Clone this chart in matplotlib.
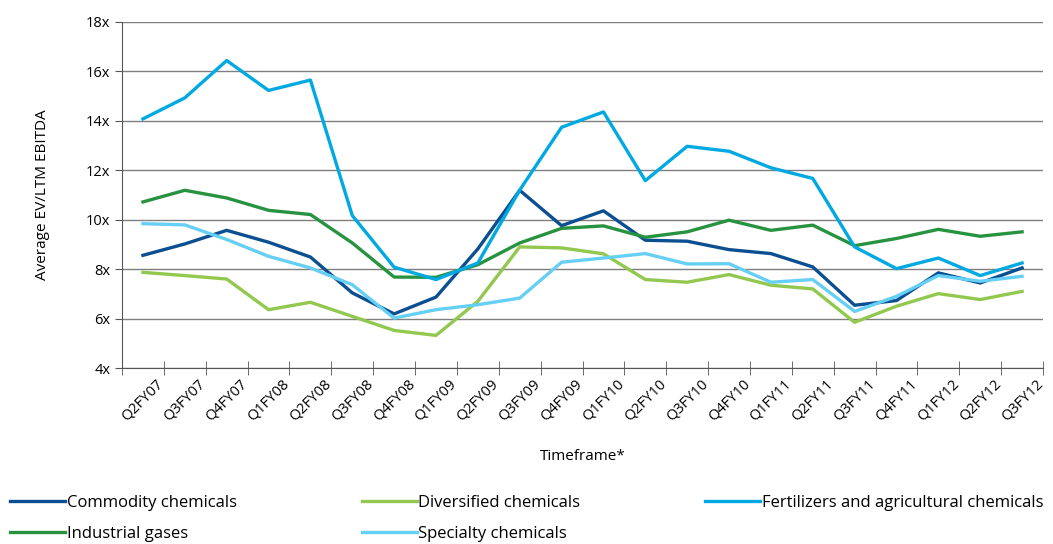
import numpy as np
import matplotlib
matplotlib.use('Agg')
import matplotlib.pyplot as plt
import matplotlib.transforms as mtransforms

plt.rcParams['font.family'] = ['Open Sans', 'DejaVu Sans']

quarters = ['Q2FY07', 'Q3FY07', 'Q4FY07', 'Q1FY08', 'Q2FY08', 'Q3FY08', 'Q4FY08',
            'Q1FY09', 'Q2FY09', 'Q3FY09', 'Q4FY09', 'Q1FY10', 'Q2FY10', 'Q3FY10',
            'Q4FY10', 'Q1FY11', 'Q2FY11', 'Q3FY11', 'Q4FY11', 'Q1FY12', 'Q2FY12', 'Q3FY12']

commodity = [8.56, 9.02, 9.57, 9.09, 8.49, 7.04, 6.19, 6.87, 8.82, 11.19, 9.76,
             10.36, 9.17, 9.13, 8.79, 8.63, 8.09, 6.54, 6.73, 7.85, 7.44, 8.05]
diversified = [7.87, 7.74, 7.60, 6.36, 6.66, 6.09, 5.52, 5.32, 6.70, 8.90, 8.86,
               8.62, 7.58, 7.47, 7.78, 7.35, 7.20, 5.85, 6.50, 7.01, 6.77, 7.10]
fertilizers = [14.08, 14.93, 16.44, 15.23, 15.65, 10.17, 8.08, 7.58, 8.25, 11.2, 13.74,
               14.36, 11.58, 12.97, 12.77, 12.10, 11.67, 8.90, 8.02, 8.45, 7.74, 8.25]
industrial = [10.72, 11.19, 10.88, 10.38, 10.21, 9.06, 7.68, 7.67, 8.18, 9.06, 9.65,
              9.75, 9.29, 9.51, 9.98, 9.57, 9.78, 8.95, 9.24, 9.61, 9.33, 9.51]
specialty = [9.84, 9.79, 9.20, 8.52, 8.05, 7.37, 6.02, 6.36, 6.56, 6.83, 8.28,
             8.45, 8.63, 8.21, 8.22, 7.47, 7.58, 6.29, 6.90, 7.74, 7.51, 7.71]

fig = plt.figure(figsize=(10.53, 5.44), dpi=100)
ax = fig.add_axes([0.1159, 0.3235, 0.8746, 0.6361])

x = np.arange(len(quarters))
lw = 2.4
l1, = ax.plot(x, commodity, color='#0B4F92', lw=lw, label='Commodity chemicals')
l2, = ax.plot(x, diversified, color='#92C84F', lw=lw, label='Diversified chemicals')
l4, = ax.plot(x, industrial, color='#27923F', lw=lw, label='Industrial gases')
l5, = ax.plot(x, specialty, color='#66CFF4', lw=lw, label='Specialty chemicals')
l3, = ax.plot(x, fertilizers, color='#00A9E1', lw=lw, label='Fertilizers and agricultural chemicals')

ax.set_xlim(-0.5, len(quarters) - 0.5)
ax.set_ylim(4, 18)
ax.set_yticks(range(4, 19, 2))
ax.set_yticklabels(['%dx' % v for v in range(4, 19, 2)], fontsize=10.5)
ax.yaxis.grid(True, color='#7f7f7f', lw=1)
ax.set_axisbelow(True)

ax.set_xticks(x)
ax.set_xticklabels(quarters, rotation=45, ha='right', rotation_mode='anchor', fontsize=10.5)
ax.tick_params(axis='x', length=0, pad=6)
shift = mtransforms.ScaledTranslation(13 / 100, 0, fig.dpi_scale_trans)
for lab in ax.get_xticklabels():
    lab.set_transform(lab.get_transform() + shift)
ax.set_xticks(np.arange(-0.5, len(quarters)), minor=True)
ax.tick_params(axis='x', which='minor', length=10, direction='inout', color='#555555')
ax.tick_params(axis='y', length=5, color='#555555')

for s in ['top', 'right']:
    ax.spines[s].set_visible(False)
for s in ['left', 'bottom']:
    ax.spines[s].set_color('#555555')

ax.set_xlabel('Timeframe*', fontsize=11, labelpad=18)
ax.set_ylabel('Average EV/LTM EBITDA', fontsize=11, labelpad=26)

fig.legend(handles=[l1, l4, l2, l5, l3], loc='lower left', bbox_to_anchor=(0.0, -0.014),
           ncol=3, frameon=False, fontsize=12, handlelength=3.3, handletextpad=0.1,
           columnspacing=7.5, labelspacing=0.9, borderaxespad=0.2)

fig.savefig('out.png', dpi=100)
